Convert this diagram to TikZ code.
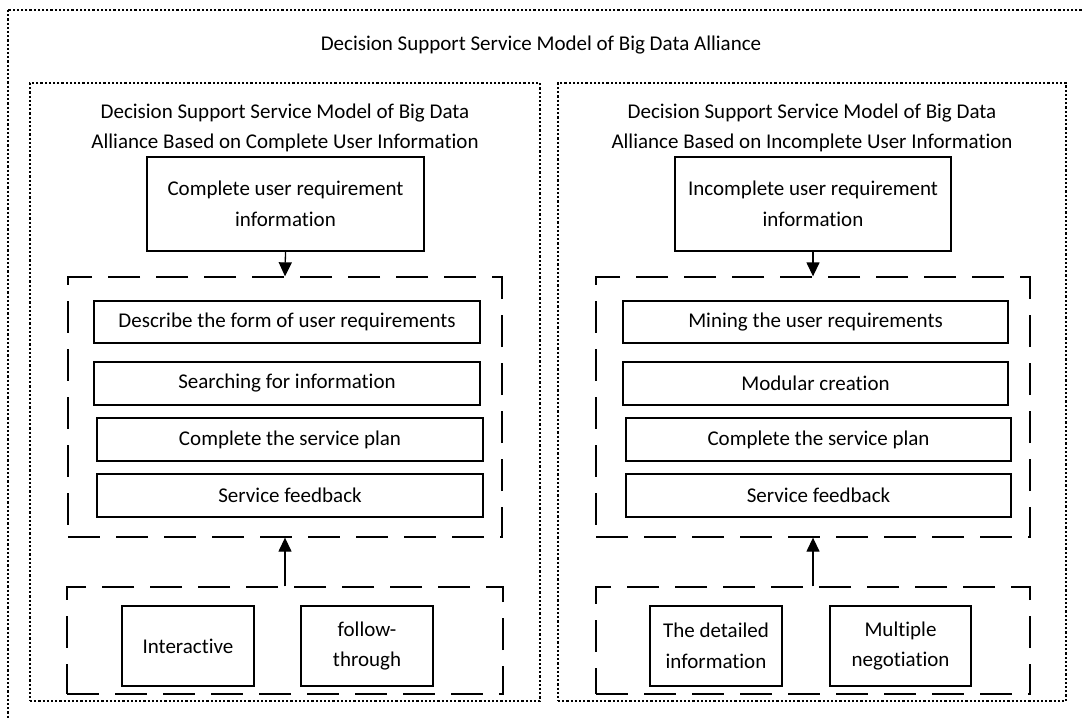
\documentclass[tikz,border=0pt]{standalone}
\usepackage{fontspec}
\setmainfont{Carlito}[Ligatures={NoCommon}]
\usetikzlibrary{arrows.meta}
\begin{document}
\begin{tikzpicture}[x=1pt,y=-1pt,
  every node/.style={font=\fontsize{21}{30.5}\selectfont, align=center, inner sep=0pt},
  solidbox/.style={draw, line width=1.3pt, minimum width=#1},
  groupbox/.style={draw, line width=1.3pt, dash pattern=on 32pt off 16pt},
  framebox/.style={draw, line width=1.3pt, dash pattern=on 2.2pt off 2pt},
  flow/.style={line width=1.3pt, -{Triangle[length=14pt,width=13pt]}}]
\path[use as bounding box] (0,0) rectangle (1083,719);
\clip (0,0) rectangle (1083,719);
\fill[white] (0,0) rectangle (1083,719);

% outer frame, running off the page at right and bottom
\draw[framebox] (8,10) rectangle (1100,740);
\node (title) at (541,45) {Decision Support Service Model of Big Data Alliance};

% left panel: complete user information
\node[framebox, minimum width=510pt, minimum height=618pt] (lpanel) at (285,392) {};
\node (ltitle) at (285,128) {Decision Support Service Model of Big Data\\Alliance Based on Complete User Information};
\node[solidbox=277pt, minimum height=94pt] (lreq) at (285.5,204) {Complete user requirement\\information};
\node[groupbox, minimum width=434pt, minimum height=260pt] (lsteps) at (285,407) {};
\node[solidbox=386pt, minimum height=42pt] (l1) at (287,322) {Describe the form of user requirements};
\node[solidbox=386pt, minimum height=43pt] (l2) at (287,383.5) {Searching for information};
\node[solidbox=386pt, minimum height=43pt] (l3) at (290,439.5) {Complete the service plan};
\node[solidbox=386pt, minimum height=43pt] (l4) at (290,495.5) {Service feedback};
\node[groupbox, minimum width=436pt, minimum height=107pt] (lmodes) at (285,640.5) {};
\node[solidbox=132pt, minimum height=80pt] (lm1) at (188,646) {Interactive};
\node[solidbox=132pt, minimum height=80pt] (lm2) at (367,646) {follow-\\through};
\draw[flow] (lreq.south) -- (lsteps.north);
\draw[flow] (lmodes.north) -- (lsteps.south);

% right panel: incomplete user information
\node[framebox, minimum width=508pt, minimum height=618pt] (rpanel) at (812,392) {};
\node (rtitle) at (812,128) {Decision Support Service Model of Big Data\\Alliance Based on Incomplete User Information};
\node[solidbox=276pt, minimum height=94pt] (rreq) at (813,204) {Incomplete user requirement\\information};
\node[groupbox, minimum width=434pt, minimum height=260pt] (rsteps) at (813,407) {};
\node[solidbox=385pt, minimum height=42pt] (r1) at (815.5,322) {Mining the user requirements};
\node[solidbox=385pt, minimum height=43pt] (r2) at (815.5,383.5) {Modular creation};
\node[solidbox=385pt, minimum height=43pt] (r3) at (818.5,439.5) {Complete the service plan};
\node[solidbox=385pt, minimum height=43pt] (r4) at (818.5,495.5) {Service feedback};
\node[groupbox, minimum width=434pt, minimum height=107pt] (rmodes) at (813,640.5) {};
\node[solidbox=132pt, minimum height=80pt] (rm1) at (716,646) {The detailed\\information};
\node[solidbox=141pt, minimum height=80pt] (rm2) at (900.5,646) {Multiple\\negotiation};
\draw[flow] (rreq.south) -- (rsteps.north);
\draw[flow] (rmodes.north) -- (rsteps.south);
\end{tikzpicture}
\end{document}
